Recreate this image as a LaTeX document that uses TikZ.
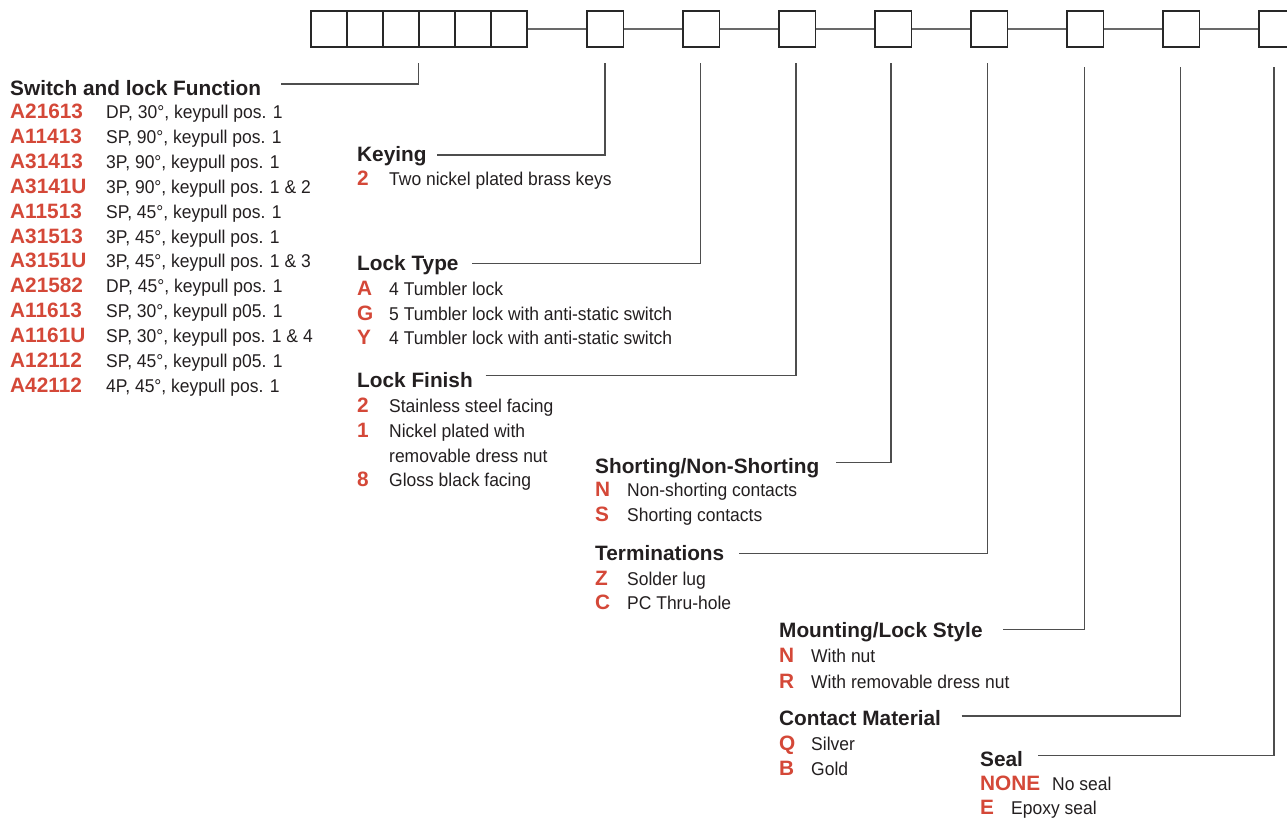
\documentclass[tikz,border=0pt]{standalone}
\usepackage{fontspec}
\setmainfont{Liberation Sans}
\newfontfamily\narrowsans[FakeStretch=0.945]{Liberation Sans}
\definecolor{codered}{RGB}{212,72,56}
\definecolor{txt}{RGB}{35,31,32}
\definecolor{leadgray}{RGB}{78,78,78}
\definecolor{boxline}{RGB}{40,40,40}
\newcommand\myhead{\fontsize{20.8}{24}\selectfont\bfseries}
\newcommand\mycode{\fontsize{20.8}{24}\selectfont\bfseries}
\newcommand\mydesc{\narrowsans\fontsize{18.5}{22}\selectfont}
\tikzset{
  hd/.style={font=\myhead, text=txt, inner sep=0pt, anchor=base west},
  cd/.style={font=\mycode, text=codered, inner sep=0pt, anchor=base west},
  ds/.style={font=\mydesc, text=txt, inner sep=0pt, anchor=base west},
  digit/.style={draw=boxline, line width=1.3pt, minimum width=36pt, minimum height=36pt, inner sep=0pt, fill=white},
  opt/.style={draw=boxline, line width=1.3pt, minimum width=36.5pt, minimum height=36pt, inner sep=0pt, fill=white},
  link/.style={draw=leadgray!85, line width=2pt},
  lead/.style={draw=leadgray, line width=1.5pt}
}
\begin{document}
\begin{tikzpicture}[x=1pt,y=-1pt]
\useasboundingbox (0,0) rectangle (1287,817);
% top code boxes
\foreach \i/\x in {1/329,2/365,3/401,4/437,5/473,6/509}
  \node[digit] (b\i) at (\x,29) {};
\foreach \i/\x in {1/605.2,2/701.2,3/797.3,4/893.3,5/989.3,6/1085.2,7/1181.2,8/1277.2}
  \node[opt] (k\i) at (\x,29) {};
\draw[link] (b6.east) -- (k1.west);
\foreach \a/\b in {1/2,2/3,3/4,4/5,5/6,6/7,7/8}
  \draw[link] (k\a.east) -- (k\b.west);

% Switch and lock function
\node[hd] (hsw) at (10,95) {Switch and lock Function};
\foreach \c/\d/\n in {A21613/{DP, 30°, keypull pos. 1}/0,
                      A11413/{SP, 90°, keypull pos. 1}/1,
                      A31413/{3P, 90°, keypull pos. 1}/2,
                      A3141U/{3P, 90°, keypull pos. 1 \& 2}/3,
                      A11513/{SP, 45°, keypull pos. 1}/4,
                      A31513/{3P, 45°, keypull pos. 1}/5,
                      A3151U/{3P, 45°, keypull pos. 1 \& 3}/6,
                      A21582/{DP, 45°, keypull pos. 1}/7,
                      A11613/{SP, 30°, keypull p05. 1}/8,
                      A1161U/{SP, 30°, keypull pos. 1 \& 4}/9,
                      A12112/{SP, 45°, keypull p05. 1}/10,
                      A42112/{4P, 45°, keypull pos. 1}/11} {
  \node[cd] (swc\n) at (10,118.5+24.9*\n) {\c};
  \node[ds] (swd\n) at (106,118.5+24.9*\n) {\d};
}
\coordinate (swl) at (281,84);
\coordinate (swt) at (418.5,63);
\draw[lead] (swl) -| (swt);

% Keying
\node[hd] (hkey) at (357,161.7) {Keying};
\node[cd] (keyc) at (357,185.7) {2};
\node[ds] (keyd) at (389,185.7) {Two nickel plated brass keys};
\coordinate (keyl) at (437,155);
\coordinate (keyt) at (604.8,63);
\draw[lead] (keyl) -| (keyt);

% Lock type
\node[hd] (hlt) at (357,270.5) {Lock Type};
\node[cd] (ltc1) at (357,295.5) {A};
\node[ds] (ltd1) at (389,295.5) {4 Tumbler lock};
\node[cd] (ltc2) at (357,320) {G};
\node[ds] (ltd2) at (389,320) {5 Tumbler lock with anti-static switch};
\node[cd] (ltc3) at (357,344.5) {Y};
\node[ds] (ltd3) at (389,344.5) {4 Tumbler lock with anti-static switch};
\coordinate (ltl) at (472,263.3);
\coordinate (ltt) at (700.7,63);
\draw[lead] (ltl) -| (ltt);

% Lock finish
\node[hd] (hlf) at (357,387) {Lock Finish};
\node[cd] (lfc1) at (357,412.5) {2};
\node[ds] (lfd1) at (389,412.5) {Stainless steel facing};
\node[cd] (lfc2) at (357,437.3) {1};
\node[ds] (lfd2) at (389,437.3) {Nickel plated with};
\node[ds] (lfd3) at (389,462.1) {removable dress nut};
\node[cd] (lfc4) at (357,486.9) {8};
\node[ds] (lfd4) at (389,486.9) {Gloss black facing};
\coordinate (lfl) at (485.7,375.5);
\coordinate (lft) at (796,63);
\draw[lead] (lfl) -| (lft);

% Shorting
\node[hd] (hsh) at (595,473.3) {Shorting/Non-Shorting};
\node[cd] (shc1) at (595,496.7) {N};
\node[ds] (shd1) at (627,496.7) {Non-shorting contacts};
\node[cd] (shc2) at (595,521.4) {S};
\node[ds] (shd2) at (627,521.4) {Shorting contacts};
\coordinate (shl) at (836,462.5);
\coordinate (sht) at (891,63);
\draw[lead] (shl) -| (sht);

% Terminations
\node[hd] (hte) at (595,560) {Terminations};
\node[cd] (tec1) at (595,585) {Z};
\node[ds] (ted1) at (627,585) {Solder lug};
\node[cd] (tec2) at (595,609.7) {C};
\node[ds] (ted2) at (627,609.7) {PC Thru-hole};
\coordinate (tel) at (739,553.3);
\coordinate (tet) at (987.7,63);
\draw[lead] (tel) -| (tet);

% Mounting
\node[hd] (hmo) at (779,637.3) {Mounting/Lock Style};
\node[cd] (moc1) at (779,662.7) {N};
\node[ds] (mod1) at (811,662.7) {With nut};
\node[cd] (moc2) at (779,688) {R};
\node[ds] (mod2) at (811,688) {With removable dress nut};
\coordinate (mol) at (1003,629.5);
\coordinate (mot) at (1084.3,66.5);
\draw[lead] (mol) -| (mot);

% Contact material
\node[hd] (hcm) at (779,725.7) {Contact Material};
\node[cd] (cmc1) at (779,750.5) {Q};
\node[ds] (cmd1) at (811,750.5) {Silver};
\node[cd] (cmc2) at (779,775.5) {B};
\node[ds] (cmd2) at (811,775.5) {Gold};
\coordinate (cml) at (961.7,716);
\coordinate (cmt) at (1180.7,66.5);
\draw[lead] (cml) -| (cmt);

% Seal
\node[hd] (hse) at (980,766) {Seal};
\node[cd] (sec1) at (980,790) {NONE};
\node[ds] (sed1) at (1052,790) {No seal};
\node[cd] (sec2) at (980,814.5) {E};
\node[ds] (sed2) at (1011,814.5) {Epoxy seal};
\coordinate (sel) at (1038,755.7);
\coordinate (set) at (1274,66.5);
\draw[lead] (sel) -| (set);
\end{tikzpicture}
\end{document}
